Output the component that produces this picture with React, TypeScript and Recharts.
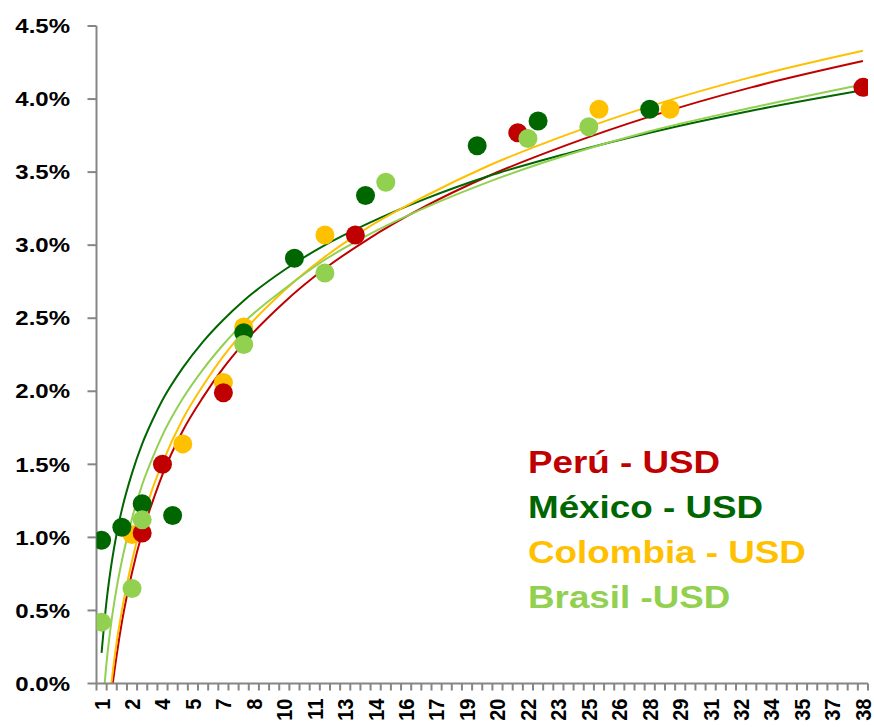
import React from "react";
import { ComposedChart, Scatter, Line, XAxis, YAxis } from "recharts";

// x values are the category values (step 0.5); labels show the integer part
const X_LABEL_POS = [1, 2.5, 4, 5.5, 7, 8.5, 10, 11.5, 13, 14.5, 16, 17.5, 19, 20.5, 22, 23.5, 25, 26.5, 28, 29.5, 31, 32.5, 34, 35.5, 37, 38.5];
const X_LABELS = ["1", "2", "4", "5", "7", "8", "10", "11", "13", "14", "16", "17", "19", "20", "22", "23", "25", "26", "28", "29", "31", "32", "34", "35", "37", "38"];
const Y_TICKS = [0, 0.5, 1, 1.5, 2, 2.5, 3, 3.5, 4, 4.5];

// observed points (%)
const PERU_X = [3, 4, 7, 13.5, 21.5, 38.5];
const PERU_Y = [1.03, 1.5, 1.99, 3.07, 3.77, 4.08];
const MEXICO_X = [1, 2, 3, 4.5, 8, 10.5, 14, 19.5, 22.5, 28];
const MEXICO_Y = [0.98, 1.07, 1.23, 1.15, 2.4, 2.91, 3.34, 3.68, 3.85, 3.93];
const COLOMBIA_X = [2.5, 5, 7, 8, 12, 25.5, 29];
const COLOMBIA_Y = [1.02, 1.64, 2.06, 2.44, 3.07, 3.93, 3.93];
const BRASIL_X = [1, 2.5, 3, 8, 12, 15, 22, 25];
const BRASIL_Y = [0.42, 0.65, 1.12, 2.32, 2.81, 3.43, 3.73, 3.81];

// trend lines
const TREND_X = [1, 1.25, 1.5, 1.75, 2, 2.5, 3, 3.5, 4, 5, 6, 7, 8, 10, 12, 14, 17, 20, 24, 28, 33, 38.5];
const PERU_TREND = [-0.89, -0.41, -0.06, 0.2, 0.42, 0.76, 1.03, 1.24, 1.43, 1.73, 1.96, 2.16, 2.33, 2.61, 2.84, 3.03, 3.27, 3.47, 3.69, 3.88, 4.08, 4.26];
const MEXICO_TREND = [0.21, 0.57, 0.83, 1.03, 1.19, 1.44, 1.64, 1.8, 1.94, 2.16, 2.34, 2.49, 2.62, 2.83, 3.0, 3.14, 3.32, 3.47, 3.63, 3.77, 3.92, 4.06];
const COLOMBIA_TREND = [-0.8, -0.32, 0.02, 0.29, 0.5, 0.84, 1.11, 1.33, 1.51, 1.81, 2.04, 2.24, 2.41, 2.69, 2.92, 3.11, 3.34, 3.54, 3.76, 3.95, 4.15, 4.33];
const BRASIL_TREND = [-0.26, 0.15, 0.44, 0.66, 0.84, 1.13, 1.36, 1.54, 1.7, 1.95, 2.15, 2.32, 2.47, 2.7, 2.9, 3.06, 3.26, 3.43, 3.62, 3.78, 3.94, 4.1];

const RED = "#C00000";
const DARK_GREEN = "#006600";
const YELLOW = "#FFC000";
const LIGHT_GREEN = "#92D050";
const AXIS = "#868686";
const FONT = "'Liberation Sans', Arial, sans-serif";

const points = (xs: number[], ys: number[]) => xs.map((x, i) => ({ x, v: ys[i] }));

// tick marks sit between categories
const TICK_MARKS = Array.from({ length: 77 }, (_, i) => 0.75 + 0.5 * i);
const X_TICKS = [...TICK_MARKS, ...X_LABEL_POS].sort((a, b) => a - b);

function XTick({ x, y, payload }: any) {
  const i = X_LABEL_POS.indexOf(payload.value);
  if (i < 0) {
    return <line x1={x} x2={x} y1={y} y2={y + 7} stroke={AXIS} strokeWidth={2} />;
  }
  return (
    <text
      transform={`translate(${x},${y + 15}) scale(1.1,1) rotate(-90)`}
      textAnchor="end"
      dy="0.36em"
      fontSize={20}
      fontWeight="bold"
      fontFamily={FONT}
      fill="#000"
    >
      {X_LABELS[i]}
    </text>
  );
}

function YTick({ x, y, payload }: any) {
  return (
    <text
      transform={`translate(${x},${y}) scale(1.2,1)`}
      textAnchor="end"
      dy="0.36em"
      fontSize={20}
      fontWeight="bold"
      fontFamily={FONT}
      fill="#000"
    >
      {payload.value.toFixed(1)}%
    </text>
  );
}

const dot = (color: string) => (p: any) => <circle cx={p.cx} cy={p.cy} r={9.5} fill={color} />;

const LEGEND = [
  { label: "Perú - USD", color: RED },
  { label: "México - USD", color: DARK_GREEN },
  { label: "Colombia - USD", color: YELLOW },
  { label: "Brasil -USD", color: LIGHT_GREEN },
];

export default function App() {
  return (
    <div style={{ position: "absolute", left: 0, top: 0, width: 874, height: 727, background: "#fff" }}>
      <ComposedChart width={874} height={727} margin={{ top: 26, right: 6, bottom: 0, left: 0 }}>
        <XAxis
          dataKey="x"
          type="number"
          domain={[0.75, 38.75]}
          allowDataOverflow
          ticks={X_TICKS}
          interval={0}
          tick={<XTick />}
          tickLine={false}
          tickSize={0}
          tickMargin={0}
          height={43.5}
          axisLine={{ stroke: AXIS, strokeWidth: 2 }}
        />
        <YAxis
          dataKey="v"
          type="number"
          domain={[0, 4.5]}
          allowDataOverflow
          ticks={Y_TICKS}
          interval={0}
          tick={<YTick />}
          tickSize={9}
          tickMargin={17.5}
          width={96.5}
          tickLine={{ stroke: AXIS, strokeWidth: 2 }}
          axisLine={{ stroke: AXIS, strokeWidth: 2 }}
        />
        <Scatter data={points(COLOMBIA_X, COLOMBIA_Y)} shape={dot(YELLOW)} isAnimationActive={false} />
        <Scatter data={points(PERU_X, PERU_Y)} shape={dot(RED)} isAnimationActive={false} />
        <Scatter data={points(MEXICO_X, MEXICO_Y)} shape={dot(DARK_GREEN)} isAnimationActive={false} />
        <Scatter data={points(BRASIL_X, BRASIL_Y)} shape={dot(LIGHT_GREEN)} isAnimationActive={false} />
        <Line data={points(TREND_X, PERU_TREND)} dataKey="v" type="monotone" stroke={RED} strokeWidth={2} dot={false} activeDot={false} isAnimationActive={false} />
        <Line data={points(TREND_X, MEXICO_TREND)} dataKey="v" type="monotone" stroke={DARK_GREEN} strokeWidth={2} dot={false} activeDot={false} isAnimationActive={false} />
        <Line data={points(TREND_X, COLOMBIA_TREND)} dataKey="v" type="monotone" stroke={YELLOW} strokeWidth={2} dot={false} activeDot={false} isAnimationActive={false} />
        <Line data={points(TREND_X, BRASIL_TREND)} dataKey="v" type="monotone" stroke={LIGHT_GREEN} strokeWidth={2} dot={false} activeDot={false} isAnimationActive={false} />
      </ComposedChart>
      <svg width={874} height={727} style={{ position: "absolute", left: 0, top: 0, pointerEvents: "none" }}>
        {LEGEND.map((l, i) => (
          <text
            key={l.label}
            transform={`translate(528,${473 + i * 45}) scale(1.15,1)`}
            fontSize={32}
            fontWeight="bold"
            fontFamily={FONT}
            fill={l.color}
          >
            {l.label}
          </text>
        ))}
      </svg>
    </div>
  );
}
